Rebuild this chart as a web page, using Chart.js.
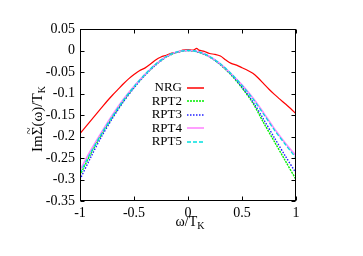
<!DOCTYPE html>
<html>
<head>
<meta charset="utf-8">
<script src="https://cdn.jsdelivr.net/npm/chart.js@4.4.0/dist/chart.umd.min.js"></script>
<style>
html,body{margin:0;padding:0;background:#fff;}
#wrap{position:relative;width:363px;height:256px;}
</style>
</head>
<body>
<div id="wrap"><canvas id="c" width="363" height="256"></canvas></div>
<script>
// ---- data ----
const nrgX = [-1,-0.95,-0.9,-0.85,-0.8,-0.75,-0.7,-0.65,-0.6,-0.55,-0.5,-0.45,-0.4,-0.35,-0.3,-0.25,-0.2,-0.15,-0.1,-0.05,0,0.05,0.08,0.1,0.15,0.2,0.25,0.3,0.35,0.4,0.45,0.5,0.55,0.6,0.65,0.7,0.75,0.8,0.85,0.9,0.95,1];
const nrgY = [-0.193,-0.178,-0.163,-0.148,-0.133,-0.118,-0.104,-0.091,-0.078,-0.066,-0.056,-0.047,-0.041,-0.032,-0.022,-0.015,-0.011,-0.006,-0.004,0.001,0.002,0.001,0.005,0.001,-0.002,-0.007,-0.009,-0.013,-0.022,-0.030,-0.034,-0.040,-0.046,-0.053,-0.064,-0.077,-0.090,-0.102,-0.113,-0.124,-0.135,-0.147];
const rptX = [-1,-0.9,-0.8,-0.7,-0.6,-0.5,-0.4,-0.3,-0.2,-0.1,0,0.1,0.2,0.3,0.4,0.5,0.6,0.7,0.8,0.9,1];
const rpt2 = [-0.290,-0.240,-0.195,-0.155,-0.118,-0.085,-0.057,-0.033,-0.015,-0.004,0,-0.004,-0.015,-0.033,-0.057,-0.087,-0.122,-0.168,-0.212,-0.256,-0.300];
const rpt3 = [-0.300,-0.248,-0.200,-0.158,-0.120,-0.087,-0.058,-0.034,-0.015,-0.004,0,-0.004,-0.015,-0.033,-0.056,-0.085,-0.119,-0.160,-0.203,-0.245,-0.285];
const rpt4 = [-0.278,-0.232,-0.190,-0.150,-0.114,-0.083,-0.056,-0.032,-0.014,-0.003,0,-0.003,-0.014,-0.031,-0.054,-0.080,-0.110,-0.145,-0.182,-0.215,-0.245];
const rpt5 = [-0.285,-0.237,-0.193,-0.153,-0.116,-0.084,-0.056,-0.032,-0.014,-0.003,0,-0.003,-0.014,-0.031,-0.054,-0.081,-0.112,-0.148,-0.185,-0.218,-0.250];
const seriesNames = ['NRG','RPT2','RPT3','RPT4','RPT5'];
const xTicks = [-1,-0.5,0,0.5,1];
const xTickLabels = ['-1','-0.5','0','0.5','1'];
const yTicks = [0.05,0,-0.05,-0.1,-0.15,-0.2,-0.25,-0.3,-0.35];
const yTickLabels = ['0.05','0','-0.05','-0.1','-0.15','-0.2','-0.25','-0.3','-0.35'];

const FONT = '"Liberation Serif", "Times New Roman", serif';
const pts = (xs, ys) => xs.map((x,i)=>({x:x,y:ys[i]}));

const styles = [
  {color:'#ff0000', dash:[], width:1.2},
  {color:'#00ee00', dash:[2,1], width:1.4},
  {color:'#2020ff', dash:[1.5,1.5], width:1.4},
  {color:'#ff88ff', dash:[], width:1.6},
  {color:'#00e0e0', dash:[4,2], width:1.3}
];
const seriesData = [pts(nrgX,nrgY), pts(rptX,rpt2), pts(rptX,rpt3), pts(rptX,rpt4), pts(rptX,rpt5)];

const datasets = seriesNames.map((n,i)=>({
  label:n, data:seriesData[i], showLine:true, pointRadius:0,
  borderColor:styles[i].color, borderWidth:styles[i].width, borderDash:styles[i].dash,
  tension:0.3, order: 5-i, fill:false
}));

const decor = {
  id:'decor',
  afterDraw(chart){
    const ctx = chart.ctx, a = chart.chartArea;
    const xs = chart.scales.x, ys = chart.scales.y;
    ctx.save();
    // frame
    ctx.strokeStyle = '#000'; ctx.lineWidth = 1; ctx.setLineDash([]);
    const L = Math.round(a.left)+0.5, R = Math.round(a.right)-0.5, T = Math.round(a.top)+0.5, B = Math.round(a.bottom)-0.5;
    ctx.strokeRect(L, T, R-L, B-T);
    // inward ticks
    const tl = 4;
    ctx.beginPath();
    xTicks.forEach(v=>{
      const px = Math.round(xs.getPixelForValue(v))+0.5;
      ctx.moveTo(px,B); ctx.lineTo(px,B-tl);
      ctx.moveTo(px,T); ctx.lineTo(px,T+tl);
    });
    yTicks.forEach(v=>{
      const py = Math.round(ys.getPixelForValue(v))+0.5;
      ctx.moveTo(L,py); ctx.lineTo(L+tl,py);
      ctx.moveTo(R,py); ctx.lineTo(R-tl,py);
    });
    ctx.stroke();
    ctx.restore();
    // legend
    const rowY = [87.5,101,114.5,128,141.5];
    seriesNames.forEach((n,i)=>{
      ctx.save();
      ctx.font = '13px ' + FONT;
      ctx.textAlign = 'right'; ctx.textBaseline = 'middle';
      ctx.fillStyle = '#000';
      ctx.fillText(n, 182, rowY[i]+0.5);
      ctx.strokeStyle = styles[i].color;
      ctx.lineWidth = Math.max(1.5, styles[i].width);
      ctx.setLineDash(styles[i].dash);
      const ly = Math.round(rowY[i]);
      ctx.beginPath(); ctx.moveTo(187, ly); ctx.lineTo(204, ly); ctx.stroke();
      ctx.restore();
    });
    ctx.save();
    // x title: ω/T_K
    ctx.fillStyle = '#000'; ctx.textAlign = 'left'; ctx.textBaseline = 'alphabetic';
    ctx.font = '14px ' + FONT;
    const xt = 'ω/T';
    const w1 = ctx.measureText(xt).width;
    ctx.font = '10px ' + FONT;
    const w2 = ctx.measureText('K').width;
    let sx = 188 - (w1+w2)/2 + 2;
    ctx.font = '14px ' + FONT;
    ctx.fillText(xt, sx, 226);
    ctx.font = '10px ' + FONT;
    ctx.fillText('K', sx + w1, 229);
    // y title rotated: Im Σ~ (ω)/T_K
    ctx.translate(42, 119);
    ctx.rotate(-Math.PI/2);
    ctx.font = '15px ' + FONT;
    const p1 = 'Im', p2 = 'Σ', p3 = '(ω)/T';
    const a1 = ctx.measureText(p1).width, a2 = ctx.measureText(p2).width, a3 = ctx.measureText(p3).width;
    ctx.font = '10px ' + FONT;
    const ak = ctx.measureText('K').width;
    let st = -(a1+a2+a3+ak)/2;
    ctx.font = '15px ' + FONT;
    ctx.fillText(p1, st, 0);
    ctx.fillText(p2, st+a1, 0);
    ctx.fillText(p3, st+a1+a2, 0);
    // tilde above Sigma
    ctx.textAlign = 'center';
    ctx.font = '13px ' + FONT;
    ctx.fillText('~', st+a1+a2/2, -9);
    ctx.textAlign = 'left';
    ctx.font = '10px ' + FONT;
    ctx.fillText('K', st+a1+a2+a3, 3);
    ctx.restore();
  }
};

new Chart(document.getElementById('c'), {
  type:'scatter',
  data:{datasets:datasets},
  options:{
    responsive:false, animation:false, devicePixelRatio:1,
    layout:{padding:{left:0, top:29, right:67, bottom:0}},
    plugins:{legend:{display:false}, tooltip:{enabled:false}},
    scales:{
      x:{type:'linear', min:-1, max:1,
        afterBuildTicks(s){ s.ticks = xTicks.map(v=>({value:v})); },
        afterFit(s){ s.height = 55; },
        grid:{display:false, drawTicks:false}, border:{display:false},
        ticks:{padding:4, color:'#000', font:{family:FONT, size:14}, maxRotation:0,
          callback:(v)=>{ const i = xTicks.findIndex(t=>Math.abs(t-v)<1e-9); return i>=0 ? xTickLabels[i] : ''; }}
      },
      y:{type:'linear', min:-0.35, max:0.05,
        afterBuildTicks(s){ s.ticks = yTicks.map(v=>({value:v})); },
        afterFit(s){ s.width = 80; },
        grid:{display:false, drawTicks:false}, border:{display:false},
        ticks:{padding:5, color:'#000', font:{family:FONT, size:14},
          callback:(v)=>{ const i = yTicks.findIndex(t=>Math.abs(t-v)<1e-9); return i>=0 ? yTickLabels[i] : ''; }}
      }
    }
  },
  plugins:[decor]
});
</script>
</body>
</html>
